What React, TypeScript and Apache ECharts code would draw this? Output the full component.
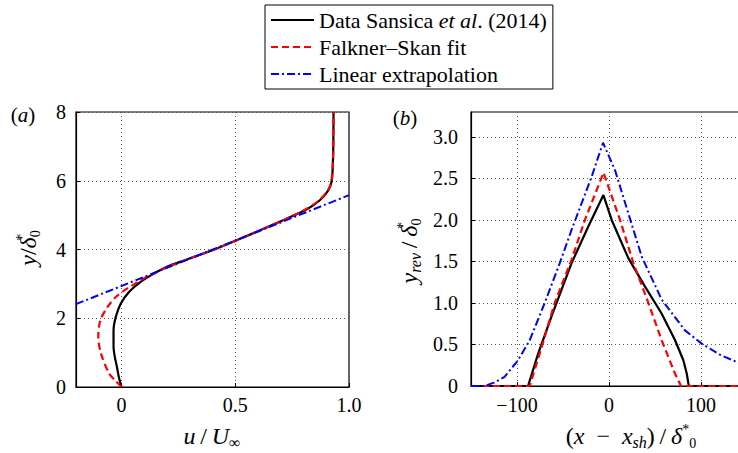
import React, { useEffect, useRef } from "react";
import * as echarts from "echarts";

const FONT = "Liberation Serif";

const SERIES_NAMES = ["Data Sansica et al. (2014)", "Falkner–Skan fit", "Linear extrapolation"];

// Panel (a): u/U∞ vs y/δ0*
const aBlackU = [0, -0.012, -0.02, -0.03, -0.035, -0.035, -0.025, -0.003, 0.034, 0.084, 0.143, 0.2, 0.288, 0.419, 0.55, 0.713, 0.815, 0.873, 0.91, 0.924, 0.929, 0.931, 0.932];
const aBlackY = [0, 0.3, 0.58, 0.9, 1.17, 1.65, 2.04, 2.43, 2.77, 3.06, 3.3, 3.5, 3.71, 4.03, 4.39, 4.86, 5.17, 5.44, 5.73, 6.0, 6.5, 7.0, 8.0];
const aRedU = [0, -0.025, -0.054, -0.09, -0.102, -0.093, -0.061, -0.025, 0.026, 0.099, 0.172, 0.22, 0.288, 0.419, 0.55, 0.713, 0.81, 0.87, 0.908, 0.923, 0.929, 0.931, 0.932];
const aRedY = [0, 0.17, 0.39, 0.97, 1.46, 1.94, 2.33, 2.62, 2.87, 3.16, 3.4, 3.54, 3.71, 4.03, 4.39, 4.86, 5.17, 5.44, 5.73, 6.0, 6.5, 7.0, 8.0];
const aBlueU = [-0.2, 1.0];
const aBlueY = [2.41, 5.58];

// Panel (b): (x - x_sh)/δ0* vs y_rev/δ0*
const bBlackX = [-150, -88, -77, -62.6, -40.7, -22.5, -6.1, 2.9, 21, 39, 57, 71.7, 80.8, 84.5, 86.3, 87, 150];
const bBlackY = [0, 0, 0.39, 0.835, 1.48, 1.92, 2.3, 2.0, 1.54, 1.2, 0.876, 0.554, 0.31, 0.15, 0.03, 0, 0];
const bRedX = [-150, -86.2, -75.3, -59, -40.7, -26.2, -6, 12, 26.5, 42.8, 57.3, 71.7, 78.3, 150];
const bRedY = [0, 0, 0.39, 1.0, 1.52, 2.0, 2.57, 2.0, 1.48, 1.0, 0.55, 0.15, 0, 0];
const bBlueX = [-150, -135.4, -125, -113.5, -98.9, -86.2, -69.9, -53.5, -40.7, -29.8, -18.9, -6.5, 6.5, 21, 35.5, 57.3, 82.6, 100.8, 120, 140.6, 150];
const bBlueY = [0, 0, 0.04, 0.11, 0.31, 0.55, 1.0, 1.48, 1.88, 2.2, 2.52, 2.93, 2.6, 2.08, 1.56, 1.04, 0.67, 0.51, 0.38, 0.28, 0.25];

// Tick values
const aXTicks = [0, 0.5, 1.0];
const bXTicks = [-100, 0, 100];
const bYTicks = [0, 0.5, 1.0, 1.5, 2.0, 2.5, 3.0];

const zip = (xs: number[], ys: number[]) => xs.map((x, i) => [x, ys[i]]);

const STYLES = [
  { color: "#000000", width: 2.2, type: "solid" as any },
  { color: "#ff0000", width: 2.2, type: [7, 4] as any },
  { color: "#0000ff", width: 2.0, type: [8, 3, 2, 3] as any },
];

const labelStyle = { fontFamily: FONT, fontSize: 20, color: "#000" };

const rich: any = {
  n: { fontFamily: FONT, fontSize: 24, lineHeight: 28, fill: "#000" },
  i: { fontFamily: FONT, fontSize: 24, lineHeight: 28, fontStyle: "italic", fill: "#000" },
  sup: { fontFamily: FONT, fontSize: 14, lineHeight: 8, verticalAlign: "top", width: 0, fill: "#000" },
  supw: { fontFamily: FONT, fontSize: 14, lineHeight: 8, verticalAlign: "top", fill: "#000" },
  sub: { fontFamily: FONT, fontSize: 14, lineHeight: 14, verticalAlign: "bottom", fill: "#000" },
  ss: { fontFamily: FONT, fontSize: 16, lineHeight: 20, verticalAlign: "bottom", fill: "#000" },
  ssi: { fontFamily: FONT, fontSize: 16, lineHeight: 20, verticalAlign: "bottom", fontStyle: "italic", fill: "#000" },
  pn: { fontFamily: FONT, fontSize: 21, lineHeight: 24, fill: "#000" },
  pi: { fontFamily: FONT, fontSize: 21, lineHeight: 24, fontStyle: "italic", fill: "#000" },
};

function textEl(text: string, x: number, y: number, rotation = 0) {
  return {
    type: "text",
    x,
    y,
    rotation,
    style: { text, rich, align: "center", verticalAlign: "middle", fill: "#000", fontFamily: FONT, fontSize: 24 },
  };
}

function axisCommon() {
  return {
    type: "value",
    axisLine: { show: true, onZero: false, lineStyle: { color: "#000", width: 1.2 } },
    axisTick: { show: true, inside: true, length: 4, lineStyle: { color: "#000", width: 1 } },
    splitLine: { show: true, lineStyle: { type: [1, 3], color: "#555", width: 1 } },
  };
}

export default function App() {
  const ref = useRef<HTMLDivElement>(null);
  useEffect(() => {
    if (!ref.current) return;
    const chart = echarts.init(ref.current, undefined, { renderer: "svg" });
    const fmt1 = (v: number) => (v === 0 ? "0" : v.toFixed(1));
    const fmtInt = (v: number) => (v < 0 ? "\u2212" + Math.abs(v) : String(v));

    const mk = (idx: number, s: number, data: number[][], smooth: boolean) => ({
      type: "line",
      name: SERIES_NAMES[s],
      xAxisIndex: idx,
      yAxisIndex: idx,
      data,
      symbol: "none",
      smooth: smooth ? 0.3 : false,
      lineStyle: { ...STYLES[s] },
      itemStyle: { color: STYLES[s].color },
      z: 2 + s,
    });

    chart.setOption({
      animation: false,
      backgroundColor: "#fff",
      grid: [
        { left: 76, top: 112, width: 273, height: 275, show: true, borderColor: "#000", borderWidth: 1.2, containLabel: false, outerBoundsMode: "none" },
        { left: 471, top: 112, width: 276, height: 274, show: true, borderColor: "#000", borderWidth: 1.2, containLabel: false, outerBoundsMode: "none" },
      ],
      xAxis: [
        {
          ...axisCommon(),
          gridIndex: 0,
          min: -0.2,
          max: 1.0,
          axisTick: { ...axisCommon().axisTick, customValues: aXTicks },
          axisLabel: { ...labelStyle, margin: 8, customValues: aXTicks, formatter: fmt1 },
        },
        {
          ...axisCommon(),
          gridIndex: 1,
          min: -150,
          max: 150,
          axisTick: { ...axisCommon().axisTick, customValues: bXTicks },
          axisLabel: { ...labelStyle, margin: 9, customValues: bXTicks, formatter: fmtInt },
        },
      ],
      yAxis: [
        {
          ...axisCommon(),
          gridIndex: 0,
          min: 0,
          max: 8,
          interval: 2,
          axisLabel: { ...labelStyle, margin: 10 },
        },
        {
          ...axisCommon(),
          gridIndex: 1,
          min: 0,
          max: 3.3,
          axisTick: { ...axisCommon().axisTick, customValues: bYTicks },
          axisLabel: { ...labelStyle, margin: 13, customValues: bYTicks, formatter: fmt1 },
        },
      ],
      legend: {
        show: true,
        orient: "vertical",
        left: 265,
        top: 5,
        padding: [4, 6, 4, 5],
        itemWidth: 43,
        itemHeight: 14,
        itemGap: 5,
        selectedMode: false,
        borderColor: "#000",
        borderWidth: 1,
        backgroundColor: "#fff",
        itemStyle: { opacity: 0 },
        data: SERIES_NAMES,
        formatter: (name: string) =>
          name === SERIES_NAMES[0] ? "Data Sansica {it|et al}. (2014)" : name,
        textStyle: {
          fontFamily: FONT,
          fontSize: 22,
          lineHeight: 22,
          color: "#000",
          rich: { it: { fontFamily: FONT, fontSize: 22, lineHeight: 22, fontStyle: "italic", color: "#000" } },
        },
      },
      series: [
        mk(0, 0, zip(aBlackU, aBlackY), true),
        mk(0, 1, zip(aRedU, aRedY), true),
        mk(0, 2, zip(aBlueU, aBlueY), false),
        mk(1, 0, zip(bBlackX, bBlackY), false),
        mk(1, 1, zip(bRedX, bRedY), false),
        mk(1, 2, zip(bBlueX, bBlueY), false),
      ],
      graphic: [
        textEl("{pn|(}{pi|a}{pn|)}", 23, 115),
        textEl("{pn|(}{pi|b}{pn|)}", 405, 118),
        textEl("{i|u}{n|\u2009/\u2009}{i|U}{ss|∞}", 212, 436),
        textEl("{n|(}{i|x}{n|\u2002−\u2002}{i|x}{ssi|sh}{n|)\u2009/\u2009}{i|δ}{supw|*}{sub|0}", 631, 436),
        textEl("{i|y}{n|/}{i|δ}{sup|*}{sub|0}", 28, 248, Math.PI / 2),
        textEl("{i|y}{ssi|rev}{n|\u2009/\u2009}{i|δ}{sup|*}{sub|0}", 409, 251, Math.PI / 2),
      ],
    });
    return () => chart.dispose();
  }, []);
  return (
    <div
      ref={ref}
      style={{ position: "absolute", left: 0, top: 0, width: 738, height: 453 }}
    />
  );
}
